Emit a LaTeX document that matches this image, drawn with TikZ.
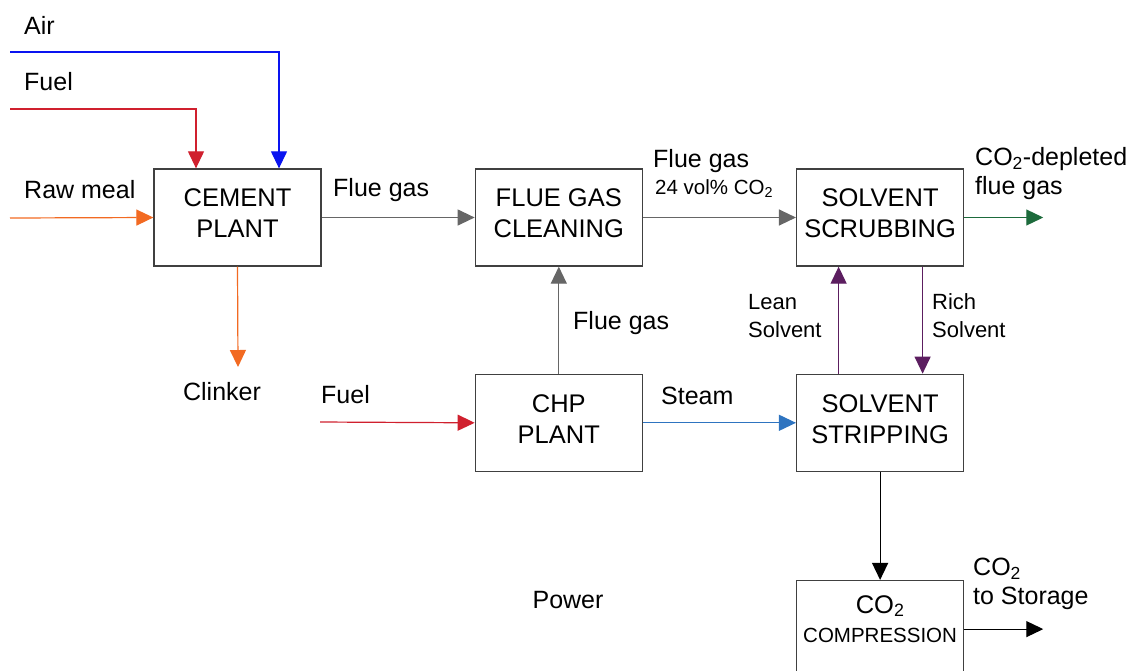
\documentclass[tikz,border=0pt]{standalone}
\usepackage{fontspec}
\setmainfont{Liberation Sans}
\usetikzlibrary{arrows.meta,positioning}
\definecolor{boxgray}{HTML}{404040}
\definecolor{gasgray}{HTML}{666666}
\definecolor{airblue}{HTML}{0A14F0}
\definecolor{fuelred}{HTML}{D0202E}
\definecolor{mealorange}{HTML}{F26A22}
\definecolor{stackgreen}{HTML}{1D6B3C}
\definecolor{steamblue}{HTML}{2E74C0}
\definecolor{solventpurple}{HTML}{5C1E60}
\tikzset{
  unit/.style={
    draw=boxgray,
    line width=1.3pt,
    minimum width=167pt,
    minimum height=97pt,
    align=center,
    inner sep=0pt,
    font=\fontsize{25.5}{31}\selectfont
  },
  stream/.style={
    -{Triangle[length=17pt,width=16pt]},
    line width=1.2pt
  },
  lbl/.style={
    inner sep=0pt,
    align=left,
    font=\fontsize{25}{29}\selectfont
  },
  smalllbl/.style={
    lbl,
    font=\fontsize{22}{28}\selectfont
  }
}

\begin{document}
\begin{tikzpicture}[x=1pt,y=-1pt]
  \useasboundingbox (0,0) rectangle (1131,670);

  % process units
  \node[unit] (cement) at (237.5,217.5) {CEMENT\\PLANT\\[-23pt]};
  \node[unit, right=153pt of cement] (cleaning) {FLUE GAS\\CLEANING\\[-23pt]};
  \node[unit, right=153pt of cleaning] (scrubbing) {SOLVENT\\SCRUBBING\\[-23pt]};
  \node[unit, below=107pt of cleaning] (chp) {CHP\\PLANT\\[-23pt]};
  \node[unit, below=107pt of scrubbing] (stripping) {SOLVENT\\STRIPPING\\[-23pt]};
  \node[unit, below=108pt of stripping] (compression)
    {CO\textsubscript{2}\\[-2pt]{\fontsize{20.5}{24}\selectfont COMPRESSION}\\[-10pt]};

  % free ends
  \coordinate (airin) at (10,52);
  \coordinate (fuelin) at (10,109);
  \coordinate (mealin) at (10,218);
  \coordinate (clinkerout) at (238,367);
  \coordinate (fuelchp) at (320,422);
  \coordinate[right=79pt of scrubbing.east] (depletedout);
  \coordinate[right=79pt of compression.east] (storageout);

  % labels
  \node[lbl, anchor=west] (airlbl) at (24,25) {Air};
  \node[lbl, anchor=west] (fuellbl) at (24,82) {Fuel};
  \node[lbl, anchor=west] (meallbl) at (24,190) {Raw meal};
  \node[lbl] (clinkerlbl) at (222,392) {Clinker};
  \node[lbl, anchor=west] (fluelbl) at (333,190) {Flue gas};
  \node[lbl, anchor=west] (flue2lbl) at (653,161) {Flue gas};
  \node[lbl, anchor=west, font=\fontsize{20.5}{24}\selectfont] (vollbl) at (655,189)
    {24 vol\% CO\textsubscript{2}};
  \node[lbl, anchor=west] (depletedlbl) at (975,174) {CO\textsubscript{2}-depleted\\flue gas};
  \node[lbl, anchor=west] (flue3lbl) at (573,323) {Flue gas};
  \node[lbl, anchor=west] (fuel2lbl) at (321,395) {Fuel};
  \node[lbl, anchor=west] (steamlbl) at (661,396) {Steam};
  \node[smalllbl, anchor=west] (leanlbl) at (748,316) {Lean\\Solvent};
  \node[smalllbl, anchor=west] (richlbl) at (932,316) {Rich\\Solvent};
  \node[lbl, anchor=west] (storagelbl) at (973,584) {CO\textsubscript{2}\\to Storage};
  \node[lbl] (powerlbl) at (568,600) {Power};

  % streams
  \draw[stream, airblue] (airin) -| ([xshift=41.5pt]cement.north);
  \draw[stream, fuelred] (fuelin) -| ([xshift=-41.5pt]cement.north);
  \draw[stream, mealorange] (mealin) -- (cement.west);
  \draw[stream, mealorange] (cement.south) -- (clinkerout);
  \draw[stream, gasgray] (cement.east) -- (cleaning.west);
  \draw[stream, gasgray] (cleaning.east) -- (scrubbing.west);
  \draw[stream, stackgreen] (scrubbing.east) -- (depletedout);
  \draw[stream, gasgray] (chp.north) -- (cleaning.south);
  \draw[stream, fuelred] (fuelchp) -- (chp.west);
  \draw[stream, steamblue] (chp.east) -- (stripping.west);
  \draw[stream, solventpurple] ([xshift=-41.5pt]stripping.north) -- ([xshift=-41.5pt]scrubbing.south);
  \draw[stream, solventpurple] ([xshift=42.5pt]scrubbing.south) -- ([xshift=42.5pt]stripping.north);
  \draw[stream, black] (stripping.south) -- (compression.north);
  \draw[stream, black] (compression.east) -- (storageout);
\end{tikzpicture}
\end{document}
